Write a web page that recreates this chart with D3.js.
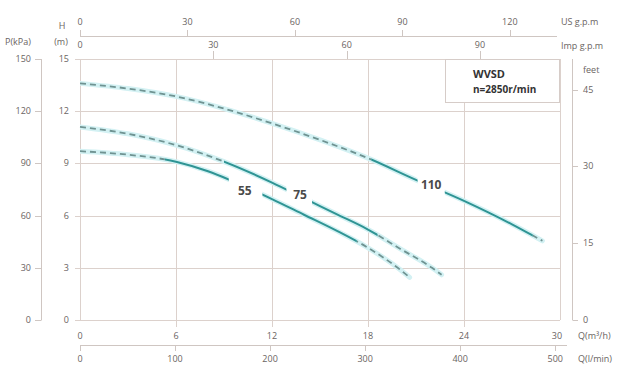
<!DOCTYPE html>
<html>
<head>
<meta charset="utf-8">
<title>WVSD pump curves</title>
<script src="https://d3js.org/d3.v7.min.js"></script>
<style>
    body { margin: 0; background: #fff; }
    text { font-family: "Open Sans", "Liberation Sans", sans-serif; fill: #6a6462; font-size: 9px; }
    .grid { stroke: #dcd1cc; stroke-width: 1; fill: none; }
    .ax { stroke: #cfc6c2; stroke-width: 1; fill: none; }
    .curve-label { font-size: 12px; font-weight: bold; fill: #4a4a4a; }
    .legend { font-weight: bold; fill: #333; }
</style>
</head>
<body>
<div id="chart"></div>
<script>
// tick values for each scale
const qTicks = [0, 6, 12, 18, 24, 30];
const hTicks = [0, 3, 6, 9, 12, 15];
const pTicks = [0, 30, 60, 90, 120, 150];
const ftTicks = [0, 15, 30, 45];
const usTicks = [0, 30, 60, 90, 120];
const impTicks = [0, 30, 60, 90];
const lminTicks = [0, 100, 200, 300, 400, 500];

// curves: Q (m3/h) and H (m)
const curveNames = ["55", "75", "110"];
const q55 = [0, 3, 6, 8, 10, 12, 14, 16, 18, 20, 20.6];
const h55 = [9.7, 9.5, 9.1, 8.55, 7.8, 6.95, 6.05, 5.15, 4.15, 2.9, 2.45];
const q75 = [0, 3, 6, 9, 12, 14, 16, 18, 20, 22, 22.6];
const h75 = [11.1, 10.7, 10.05, 9.1, 7.9, 7.0, 6.1, 5.2, 4.1, 3.0, 2.6];
const q110 = [0, 3, 6, 9, 12, 15, 18, 21, 24, 27, 28.9];
const h110 = [13.6, 13.3, 12.85, 12.15, 11.3, 10.35, 9.3, 8.05, 6.85, 5.5, 4.55];

// where each curve goes solid, and the gap left for its label (Q)
const solidFrom = [5.3, 9.0, 18.2];
const solidTo = [17.3, 18.6, 28.3];
const gapFrom = [9.3, 12.9, 21.1];
const gapTo = [11.4, 14.5, 22.8];
const labelQ = [10.3, 13.75, 21.95];
const labelH = [7.4, 7.18, 7.76];

const W = 619, H = 369;
const svg = d3.select("#chart").append("svg").attr("width", W).attr("height", H);

const x = d3.scaleLinear().domain([0, 30]).range([80, 560]);
const y = d3.scaleLinear().domain([0, 15]).range([320, 59]);
const p = d3.scaleLinear().domain([0, 150]).range([320, 59]);
const ft = d3.scaleLinear().domain([0, 51]).range([320, 59]);
const us = d3.scaleLinear().domain([0, 134]).range([80, 560]);
const imp = d3.scaleLinear().domain([0, 108]).range([80, 560]);
const lmin = d3.scaleLinear().domain([0, 505]).range([80, 560]);

// grid
svg.append("g").selectAll("line").data(hTicks).enter().append("line")
    .attr("class", "grid")
    .attr("x1", 75).attr("x2", 560)
    .attr("y1", d => Math.round(y(d)) + 0.5).attr("y2", d => Math.round(y(d)) + 0.5);
svg.append("g").selectAll("line").data(qTicks).enter().append("line")
    .attr("class", "grid")
    .attr("x1", d => Math.round(x(d)) + 0.5).attr("x2", d => Math.round(x(d)) + 0.5)
    .attr("y1", y(15)).attr("y2", d => (d === 0 || d === 30) ? y(0) : 327);

// H labels
svg.append("g").selectAll("text").data(hTicks).enter().append("text")
    .attr("x", 69).attr("y", d => y(d) + 3).attr("text-anchor", "end").text(d => d);

// P axis
svg.append("line").attr("class", "ax").attr("x1", 41.5).attr("x2", 41.5).attr("y1", p(150)).attr("y2", p(0));
svg.append("g").selectAll("line").data(pTicks).enter().append("line")
    .attr("class", "ax").attr("x1", 35).attr("x2", 41.5)
    .attr("y1", d => Math.round(p(d)) + 0.5).attr("y2", d => Math.round(p(d)) + 0.5);
svg.append("g").selectAll("text").data(pTicks).enter().append("text")
    .attr("x", 31).attr("y", d => p(d) + 3).attr("text-anchor", "end").text(d => d);
svg.append("text").attr("x", 5).attr("y", 45).text("P(kPa)");
svg.append("text").attr("x", 62).attr("y", 29).attr("text-anchor", "middle").text("H");
svg.append("text").attr("x", 61).attr("y", 45).attr("text-anchor", "middle").text("(m)");

// feet axis
svg.append("line").attr("class", "ax").attr("x1", 572.5).attr("x2", 572.5).attr("y1", 59).attr("y2", ft(0));
svg.append("g").selectAll("line").data(ftTicks).enter().append("line")
    .attr("class", "ax").attr("x1", 572.5).attr("x2", 578)
    .attr("y1", d => Math.round(ft(d)) + 0.5).attr("y2", d => Math.round(ft(d)) + 0.5);
svg.append("g").selectAll("text").data(ftTicks).enter().append("text")
    .attr("x", 583).attr("y", d => ft(d) + 3).text(d => d);
svg.append("text").attr("x", 583).attr("y", 73).text("feet");

// top axes
svg.append("line").attr("class", "ax").attr("x1", 80).attr("x2", 557).attr("y1", 36.5).attr("y2", 36.5);
svg.append("g").selectAll("line").data(usTicks).enter().append("line")
    .attr("class", "ax").attr("x1", d => Math.round(us(d)) + 0.5).attr("x2", d => Math.round(us(d)) + 0.5)
    .attr("y1", 30).attr("y2", 36.5);
svg.append("g").selectAll("text").data(usTicks).enter().append("text")
    .attr("x", d => us(d)).attr("y", 25).attr("text-anchor", "middle").text(d => d);
svg.append("text").attr("x", 561).attr("y", 25).text("US g.p.m");

svg.append("g").selectAll("line").data(impTicks.slice(1)).enter().append("line")
    .attr("class", "ax").attr("x1", d => Math.round(imp(d)) + 0.5).attr("x2", d => Math.round(imp(d)) + 0.5)
    .attr("y1", 51).attr("y2", 59);
svg.append("g").selectAll("text").data(impTicks).enter().append("text")
    .attr("x", d => imp(d)).attr("y", 48).attr("text-anchor", "middle").text(d => d);
svg.append("text").attr("x", 561).attr("y", 49).text("Imp g.p.m");

// bottom axes
svg.append("g").selectAll("text").data(qTicks).enter().append("text")
    .attr("x", d => d === 30 ? x(d) - 3 : x(d)).attr("y", 339).attr("text-anchor", "middle").text(d => d);
svg.append("text").attr("x", 578).attr("y", 339).text("Q(m³/h)");

svg.append("line").attr("class", "ax").attr("x1", 80).attr("x2", 567).attr("y1", 345.5).attr("y2", 345.5);
svg.append("g").selectAll("line").data(lminTicks).enter().append("line")
    .attr("class", "ax").attr("x1", d => Math.round(lmin(d)) + 0.5).attr("x2", d => Math.round(lmin(d)) + 0.5)
    .attr("y1", 345.5).attr("y2", 351);
svg.append("g").selectAll("text").data(lminTicks).enter().append("text")
    .attr("x", d => lmin(d)).attr("y", 362).attr("text-anchor", "middle").text(d => d);
svg.append("text").attr("x", 578).attr("y", 362).text("Q(l/min)");

// legend box
svg.append("rect").attr("x", 445.5).attr("y", 59.5).attr("width", 114).attr("height", 43)
    .attr("fill", "#fff").attr("stroke", "#d6ccc8");
svg.append("text").attr("class", "legend").attr("x", 473).attr("y", 78).style("font-size", "11px").text("WVSD");
svg.append("text").attr("class", "legend").attr("x", 473).attr("y", 93).style("font-size", "10px").text("n=2850r/min");

// curves
const qs = [q55, q75, q110];
const hs = [h55, h75, h110];
const line = d3.line().x(d => x(d[0])).y(d => y(d[1])).curve(d3.curveMonotoneX);
const defs = svg.append("defs");

function clip(id, ranges) {
    const c = defs.append("clipPath").attr("id", id);
    ranges.forEach(r => {
        c.append("rect").attr("x", x(r[0])).attr("width", x(r[1]) - x(r[0]))
            .attr("y", 0).attr("height", H);
    });
    return "url(#" + id + ")";
}

curveNames.forEach((name, i) => {
    const pts = qs[i].map((q, j) => [q, hs[i][j]]);
    const end = qs[i][qs[i].length - 1];
    const d = line(pts);
    const g = svg.append("g");
    g.append("path").attr("d", d).attr("fill", "none")
        .attr("stroke", "#d3f1f3").attr("stroke-width", 5).attr("stroke-linecap", "round")
        .attr("clip-path", clip("glow" + i, [[0, gapFrom[i]], [gapTo[i], end + 1]]));
    g.append("path").attr("d", d).attr("fill", "none")
        .attr("stroke", "#6f9392").attr("stroke-width", 1.8).attr("stroke-dasharray", "6,4")
        .attr("clip-path", clip("dash" + i, [[-1, solidFrom[i]], [solidTo[i], end + 1]]));
    g.append("path").attr("d", d).attr("fill", "none")
        .attr("stroke", "#2f9494").attr("stroke-width", 2)
        .attr("clip-path", clip("solid" + i, [[solidFrom[i], gapFrom[i]], [gapTo[i], solidTo[i]]]));
    g.append("text").attr("class", "curve-label")
        .attr("x", x(labelQ[i])).attr("y", y(labelH[i]) + 4)
        .attr("text-anchor", "middle").text(name);
});
</script>
</body>
</html>
